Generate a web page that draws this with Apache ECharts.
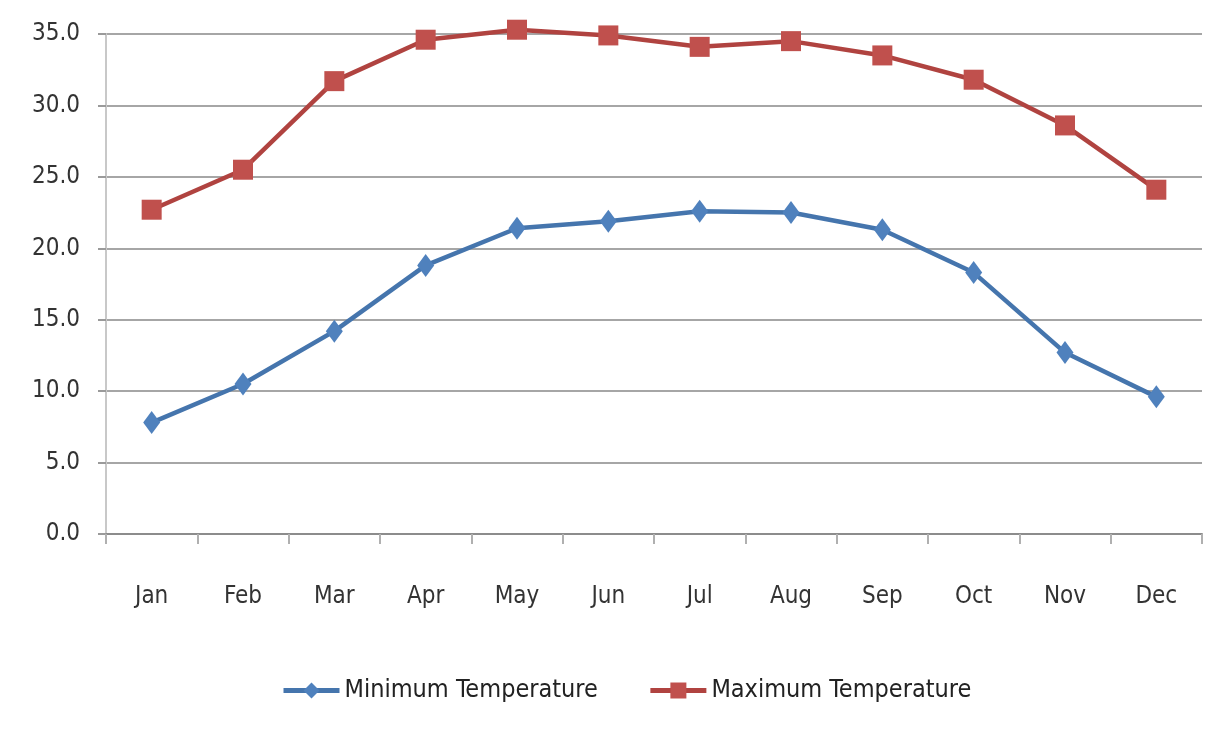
<!DOCTYPE html>
<html>
<head>
<meta charset="utf-8">
<script src="https://cdn.jsdelivr.net/npm/echarts@6/dist/echarts.min.js"></script>
<style>
  html, body { margin: 0; padding: 0; background: #fff; }
  #chart { width: 1209px; height: 740px; }
</style>
</head>
<body>
<div id="chart"></div>
<script>
// data
const months = ['Jan', 'Feb', 'Mar', 'Apr', 'May', 'Jun', 'Jul', 'Aug', 'Sep', 'Oct', 'Nov', 'Dec']
const minTemp = [7.8, 10.5, 14.2, 18.8, 21.4, 21.9, 22.6, 22.5, 21.3, 18.3, 12.7, 9.6]
const maxTemp = [22.7, 25.5, 31.7, 34.6, 35.3, 34.9, 34.1, 34.5, 33.5, 31.8, 28.6, 24.1]
const yTicks = { min: 0, max: 35, interval: 5 }

const font = '"DejaVu Sans Condensed", "Liberation Sans Narrow", "Liberation Sans", sans-serif'
const chart = echarts.init(document.getElementById('chart'))

chart.setOption({
  backgroundColor: '#fff',
  animation: false,
  grid: { left: 106, right: 7, top: 34, bottom: 206 },
  legend: {
    bottom: 37,
    left: 281,
    padding: 0,
    itemWidth: 56,
    itemHeight: 20,
    itemGap: 50,
    lineStyle: { width: 5 },
    textStyle: { fontFamily: font, fontSize: 25, color: '#222' },
    data: ['Minimum Temperature', 'Maximum Temperature']
  },
  xAxis: {
    type: 'category',
    data: months,
    boundaryGap: true,
    axisLine: { lineStyle: { color: '#8c8c8c', width: 2 } },
    axisTick: { show: true, length: 10, lineStyle: { color: '#b0b0b0', width: 2 } },
    axisLabel: { fontFamily: font, fontSize: 24, color: '#333', margin: 51 }
  },
  yAxis: {
    type: 'value',
    min: yTicks.min,
    max: yTicks.max,
    interval: yTicks.interval,
    axisLine: { show: true, lineStyle: { color: '#c8c8c8', width: 2 } },
    axisTick: { show: true, length: 8, lineStyle: { color: '#9a9a9a', width: 2 } },
    axisLabel: {
      fontFamily: font, fontSize: 24, color: '#333', margin: 26,
      formatter: (v) => v.toFixed(1)
    },
    splitLine: { lineStyle: { color: '#a6a6a6', width: 2 } }
  },
  series: [
    {
      name: 'Minimum Temperature',
      type: 'line',
      data: minTemp,
      clip: false,
      symbol: 'diamond',
      symbolSize: [17, 23],
      lineStyle: { color: '#4575ad', width: 4.5 },
      itemStyle: { color: '#4f81bd' }
    },
    {
      name: 'Maximum Temperature',
      type: 'line',
      data: maxTemp,
      clip: false,
      symbol: 'rect',
      symbolSize: 20,
      lineStyle: { color: '#b04340', width: 4.5 },
      itemStyle: { color: '#c0504d' }
    }
  ]
})
</script>
</body>
</html>
